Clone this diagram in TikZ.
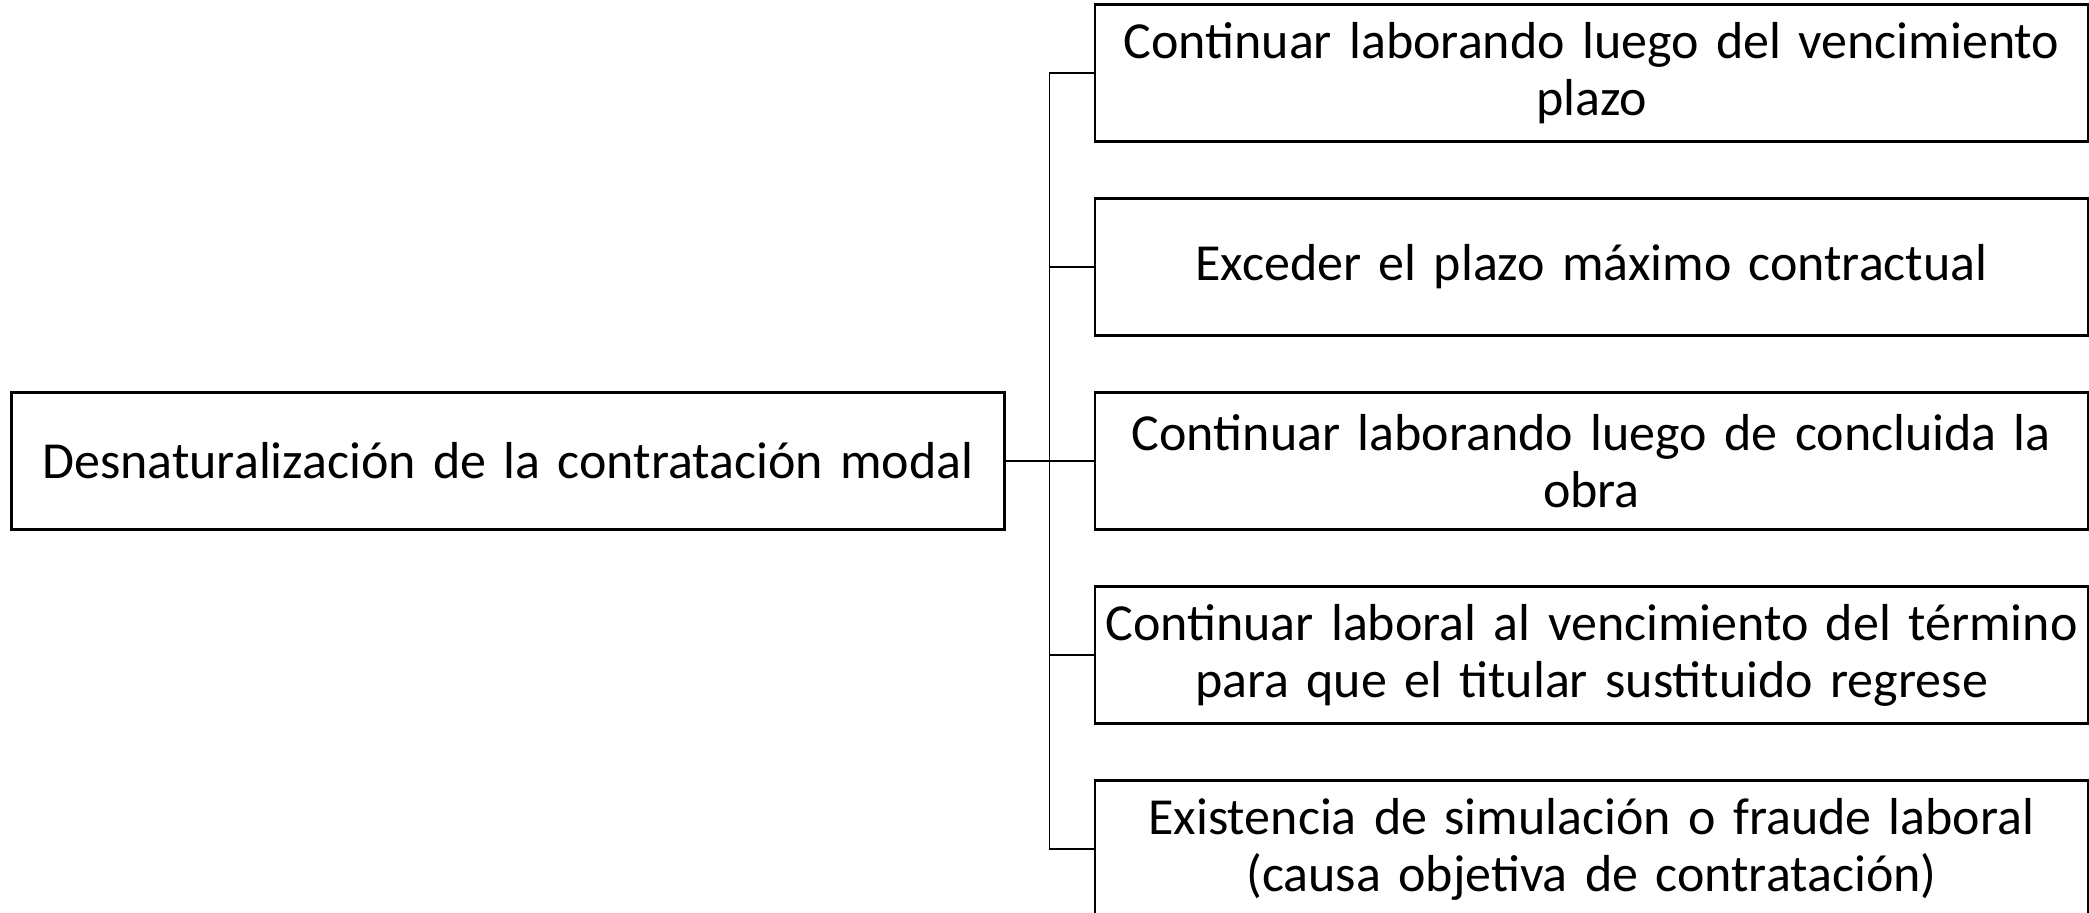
\documentclass[tikz,border=0pt]{standalone}
\usepackage{fontspec}
\setmainfont{Carlito}
\usepackage{tikz}
\usetikzlibrary{positioning}

\begin{document}
\begin{tikzpicture}[box/.style={rectangle,draw=black,line width=1.3pt,outer sep=0pt,align=center,minimum height=68.5pt,inner xsep=1pt,inner ysep=2pt,font=\fontsize{26}{28.5}\selectfont}, causa/.style={box,text width=494.5pt}, link/.style={draw=black,line width=0.9pt}, node distance=28.5pt]

    \useasboundingbox (0,0) rectangle (1044.5pt,-456pt);

    \node[box, text width=494.5pt] (raiz) at (254pt,-230.5pt) {Desnaturalización de la contratación modal};

    \node[causa] (c1) at (795.75pt,-36.5pt) {Continuar laborando luego del vencimiento\\ plazo};
    \node[causa, below=of c1] (c2) {Exceder el plazo máximo contractual};
    \node[causa, below=of c2] (c3) {Continuar laborando luego de concluida la\\ obra};
    \node[causa, below=of c3] (c4) {Continuar laboral al vencimiento del término\\ para que el titular sustituido regrese};
    \node[causa, below=of c4] (c5) {Existencia de simulación o fraude laboral\\ (causa objetiva de contratación)};

    \foreach \c in {c1,c2,c3,c4,c5}
      \draw[link] (raiz.east) -- ++(22.5pt,0) |- (\c.west);

\end{tikzpicture}
\end{document}
